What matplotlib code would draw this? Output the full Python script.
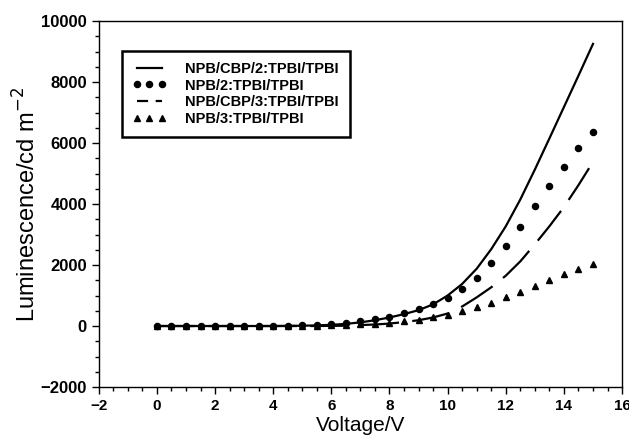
import matplotlib
matplotlib.use('Agg')
import matplotlib.pyplot as plt
from matplotlib.lines import Line2D
from matplotlib.ticker import MultipleLocator

voltage = [0.0, 0.5, 1.0, 1.5, 2.0, 2.5, 3.0, 3.5, 4.0, 4.5, 5.0, 5.5, 6.0, 6.5, 7.0, 7.5,
           8.0, 8.5, 9.0, 9.5, 10.0, 10.5, 11.0, 11.5, 12.0, 12.5, 13.0, 13.5, 14.0, 14.5, 15.0]

# NPB/CBP/2:TPBI/TPBI (solid)
lum_cbp2 = [0, 0, 0, 0, 0, 0, 0, 0, 0, 5, 10, 20, 40, 70, 120, 190,
            280, 390, 520, 710, 1000, 1380, 1880, 2520, 3270, 4150, 5130, 6150, 7180, 8210, 9250]
# NPB/2:TPBI/TPBI (dots)
lum_2 = [0, 0, 0, 0, 0, 0, 0, 0, 0, 10, 20, 40, 70, 110, 160, 230,
         310, 420, 550, 710, 930, 1200, 1580, 2060, 2630, 3250, 3930, 4600, 5220, 5830, 6370]
# NPB/CBP/3:TPBI/TPBI (dashed)
lum_cbp3 = [0, 0, 0, 0, 0, 0, 0, 0, 0, 0, 0, 0, 5, 10, 30, 50,
            80, 130, 190, 280, 410, 640, 940, 1270, 1650, 2120, 2680, 3270, 3900, 4620, 5380]
# NPB/3:TPBI/TPBI (triangles)
lum_3 = [0, 0, 0, 0, 0, 0, 0, 0, 0, 0, 5, 10, 20, 30, 50, 75,
         110, 160, 210, 280, 370, 480, 620, 770, 940, 1120, 1310, 1510, 1700, 1860, 2020]

labels = ['NPB/CBP/2:TPBI/TPBI', 'NPB/2:TPBI/TPBI', 'NPB/CBP/3:TPBI/TPBI', 'NPB/3:TPBI/TPBI']

plt.rcParams['font.family'] = ['Liberation Sans', 'DejaVu Sans']

fig = plt.figure(figsize=(6.29, 4.38), dpi=100)
ax = fig.add_axes([0.157, 0.1164, 0.832, 0.8356])

l1, = ax.plot(voltage, lum_cbp2, '-', color='black', lw=1.6)
l2, = ax.plot(voltage, lum_2, 'o', color='black', ms=4.4)
ax.plot(voltage, lum_cbp3, '-', color='black', lw=1.6, dashes=(17, 6))
l4, = ax.plot(voltage, lum_3, '^', color='black', ms=4)
# shorter dashes in the legend so two dashes show, as in the original
l3 = Line2D([], [], color='black', lw=1.6, dashes=(5.0, 3.4))

ax.set_xlim(-2, 16)
ax.set_ylim(-2000, 10000)
ax.xaxis.set_major_locator(MultipleLocator(2))
ax.xaxis.set_minor_locator(MultipleLocator(0.5))
ax.yaxis.set_major_locator(MultipleLocator(2000))
ax.yaxis.set_minor_locator(MultipleLocator(500))
ax.tick_params(which='both', direction='out', top=False, right=False, width=1)
ax.tick_params(which='major', length=5)
ax.tick_params(which='minor', length=3)
for lab in ax.get_xticklabels():
    lab.set_fontsize(11)
    lab.set_fontweight('bold')
for lab in ax.get_yticklabels():
    lab.set_fontsize(12)
    lab.set_fontweight('bold')
for sp in ax.spines.values():
    sp.set_linewidth(1)

ax.set_xlabel('Voltage/V', fontsize=15, labelpad=2)
ax.set_ylabel('Luminescence/cd m$^{-2}$', fontsize=17, labelpad=0)

leg = ax.legend([l1, l2, l3, l4], labels, loc='upper left', bbox_to_anchor=(0.044, 0.918),
                borderaxespad=0, fancybox=False, edgecolor='black', framealpha=1, numpoints=3,
                handlelength=2.3, handletextpad=1.3, labelspacing=0.18,
                borderpad=0.75, prop={'size': 10.5, 'weight': 'bold'})
leg.get_frame().set_linewidth(1.8)

plt.savefig('out.png', dpi=100)
